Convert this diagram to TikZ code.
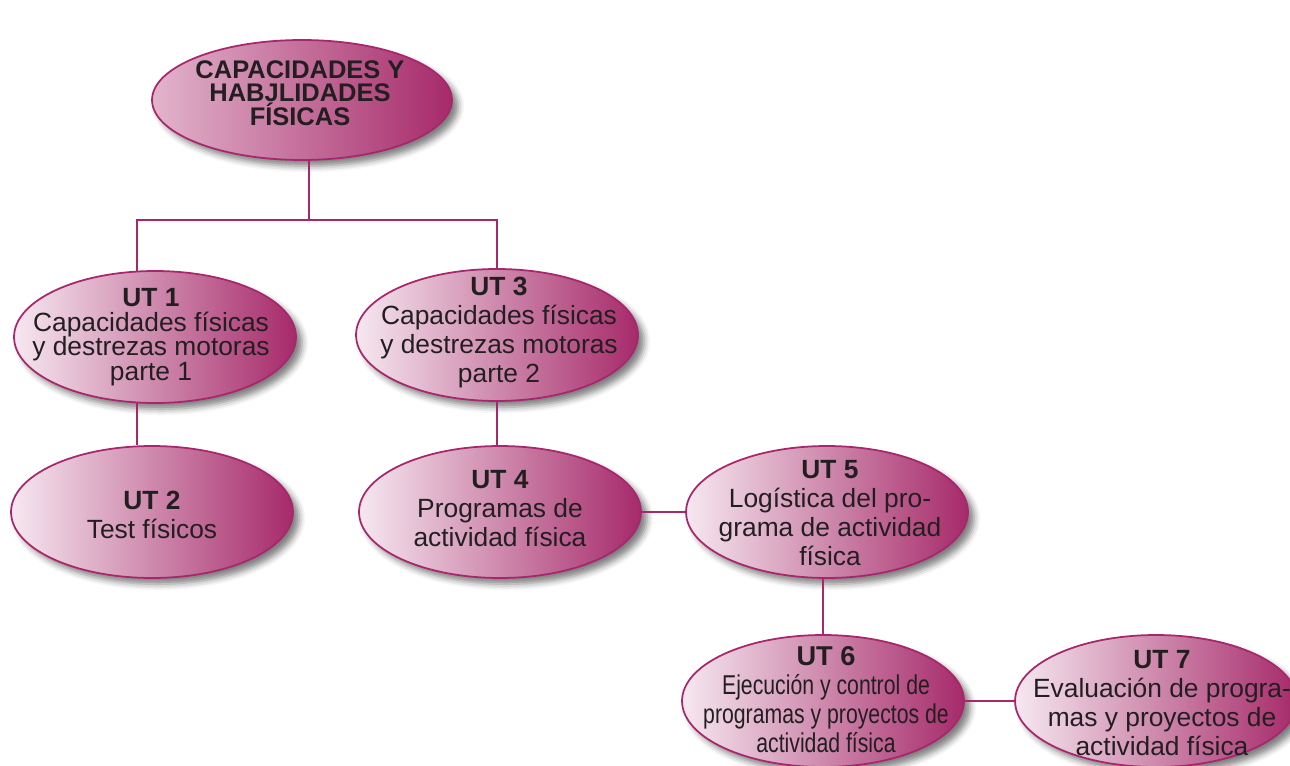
\documentclass[tikz,border=0pt]{standalone}
\usepackage{fontspec}
\setmainfont{Liberation Sans}
\newfontfamily\narrowfont[FakeStretch=0.78]{Liberation Sans}
\usetikzlibrary{shapes.geometric, shadows.blur, positioning}
\definecolor{magdark}{RGB}{166,42,106}
\definecolor{maglight}{RGB}{246,232,240}
\definecolor{magtop}{RGB}{226,180,204}
\definecolor{magline}{RGB}{168,38,108}
\definecolor{inkgray}{RGB}{35,31,32}
\tikzset{
unit/.style={shape=ellipse, minimum width=5.64cm, minimum height=2.64cm, inner sep=0, draw=magline, line width=1pt, left color=maglight, right color=magdark, blur shadow={shadow xshift=3.5pt, shadow yshift=-3.5pt, shadow blur radius=3.5pt, shadow opacity=50}},
topunit/.style={unit, minimum width=6cm, minimum height=2.4cm, left color=magtop},
utext/.style={align=center, inner sep=0, text=inkgray, font=\fontsize{15}{16.5}\selectfont},
link/.style={draw=magline, line width=1.1pt}}

\begin{document}
\begin{tikzpicture}[x=0.02cm, y=-0.02cm]
\useasboundingbox (0,0) rectangle (1290,766);
\clip (0,0) rectangle (1290,766);
% ellipses
\node [topunit] (cap) at (302,100) {};
\foreach \n/\x/\y in {1/155/337, 2/152/512, 3/497/335, 4/500/512, 5/827/512, 6/823/701, 7/1156/701}{
      \node [unit] (ut-\n) at (\x,\y) {};
}
% texts
\node [utext, font=\bfseries\fontsize{14.5}{13.4}\selectfont] (t-0) at (300,93) {CAPACIDADES Y\\HABJLIDADES\\FÍSICAS};
\node [utext, font=\fontsize{15}{14}\selectfont] (t-1) at (151,337) {\textbf{UT 1}\\Capacidades físicas\\y destrezas motoras\\parte 1};
\node [utext] (t-2) at (152,515) {\textbf{UT 2}\\Test físicos};
\node [utext] (t-3) at (499,333) {\textbf{UT 3}\\Capacidades físicas\\y destrezas motoras\\parte 2};
\node [utext] (t-4) at (500,509) {\textbf{UT 4}\\Programas de\\actividad física};
\node [utext] (t-5) at (830,513) {\textbf{UT 5}\\Logística del pro-\\grama de actividad\\física};
\node [utext, font=\narrowfont\fontsize{15.5}{16.5}\selectfont] (t-6) at (826,700) {\textbf{\rmfamily UT 6}\\Ejecución y control de\\programas y proyectos de\\actividad física};
\node [utext] (t-7) at (1162,703) {\textbf{UT 7}\\Evaluación de progra-\\mas y proyectos de\\actividad física};
% connectors
\coordinate (fork) at (309,220);
\draw [link] (fork |- cap.south) -- (fork);
\draw [link] (ut-1.105) |- (fork) -| (ut-3.north);
\draw [link] (ut-1.255) -- (ut-1.255 |- ut-2.north);
\draw [link] (ut-3.south) -- (ut-3.south |- ut-4.north);
\draw [link] (ut-4.east) -- (ut-5.west);
\draw [link] (ut-6.north) -- (ut-6.north |- ut-5.south);
\draw [link] (ut-6.east) -- (ut-7.west);
\end{tikzpicture}
\end{document}
